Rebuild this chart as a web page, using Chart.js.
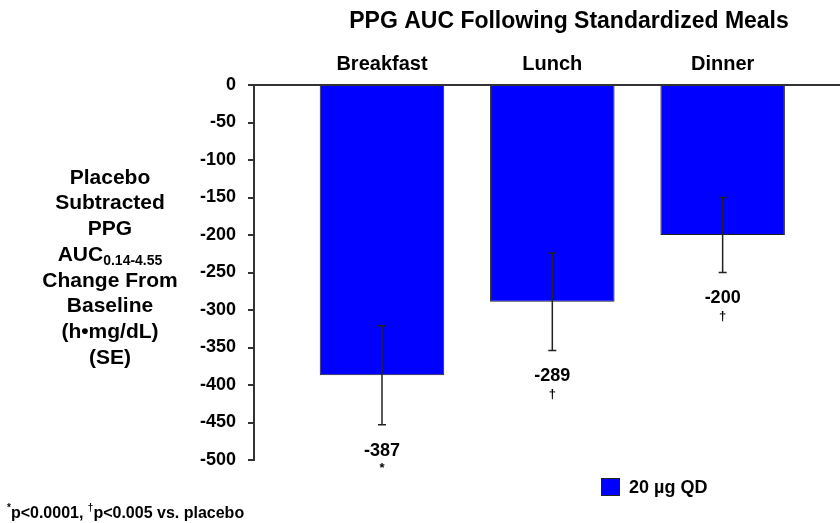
<!DOCTYPE html>
<html>
<head>
<meta charset="utf-8">
<script src="https://cdn.jsdelivr.net/npm/chart.js@4.4.1/dist/chart.umd.min.js"></script>
<style>
  html, body { margin: 0; padding: 0; background: #fff; }
  #wrap { width: 840px; height: 523px; position: relative; }
</style>
</head>
<body>
<div id="wrap"><canvas id="c" width="840" height="523"></canvas></div>
<script>
// ---- data ----
const categories = ['Breakfast', 'Lunch', 'Dinner'];
const values = [-387, -289, -200];
const standardErrors = [66, 65, 50];
const significance = ['*', '\u2020', '\u2020'];
const seriesLabel = '20 \u00b5g QD';
const yTicks = [0, -50, -100, -150, -200, -250, -300, -350, -400, -450, -500];
const titleText = 'PPG AUC Following Standardized Meals';
const yLabelLines = ['Placebo', 'Subtracted', 'PPG', 'AUC', 'Change From', 'Baseline', '(h\u2022mg/dL)', '(SE)'];
const yLabelSub = '0.14-4.55';

const FONT = '"Liberation Sans", Arial, Helvetica, sans-serif';
const BLUE = '#0000FF';
const DARK = '#333333';

const positions = categories.map((_, i) => i + 1);

const extrasPlugin = {
  id: 'extras',
  afterDatasetsDraw(chart) {
    const ctx = chart.ctx;
    const xs = chart.scales.x, ys = chart.scales.y;
    ctx.save();
    ctx.strokeStyle = '#222';
    ctx.lineWidth = 1.5;
    values.forEach((v, i) => {
      const x = xs.getPixelForValue(positions[i]);
      const yT = ys.getPixelForValue(v + standardErrors[i]);
      const yB = ys.getPixelForValue(v - standardErrors[i]);
      ctx.beginPath();
      ctx.moveTo(x, yT); ctx.lineTo(x, yB);
      ctx.moveTo(x - 4, yT); ctx.lineTo(x + 4, yT);
      ctx.moveTo(x - 4, yB); ctx.lineTo(x + 4, yB);
      ctx.stroke();
      ctx.fillStyle = '#000';
      ctx.textAlign = 'center';
      ctx.textBaseline = 'middle';
      ctx.font = 'bold 18px ' + FONT;
      ctx.fillText(String(v), x, yB + 26);
      ctx.font = 'bold 13px ' + FONT;
      ctx.fillText(significance[i], x, yB + 44);
    });
    ctx.restore();
  },
  afterDraw(chart) {
    const ctx = chart.ctx;
    ctx.save();
    ctx.fillStyle = '#000';
    // title
    ctx.font = 'bold 23px ' + FONT;
    ctx.textAlign = 'center';
    ctx.textBaseline = 'middle';
    ctx.fillText(titleText, 569, 22);
    // y-axis label (horizontal, multi-line)
    const cx = 110, y0 = 178, lh = 25.7;
    yLabelLines.forEach((line, i) => {
      const y = y0 + i * lh;
      if (line === 'AUC') {
        ctx.font = 'bold 21px ' + FONT;
        const w1 = ctx.measureText(line).width;
        ctx.font = 'bold 14px ' + FONT;
        const w2 = ctx.measureText(yLabelSub).width;
        const start = cx - (w1 + w2) / 2;
        ctx.textAlign = 'left';
        ctx.font = 'bold 21px ' + FONT;
        ctx.fillText(line, start, y);
        ctx.font = 'bold 14px ' + FONT;
        ctx.fillText(yLabelSub, start + w1, y + 6);
        ctx.textAlign = 'center';
      } else {
        ctx.font = 'bold 21px ' + FONT;
        ctx.fillText(line, cx, y);
      }
    });
    // legend
    ctx.fillStyle = BLUE;
    ctx.fillRect(601, 478, 18, 17);
    ctx.strokeStyle = '#222';
    ctx.lineWidth = 1;
    ctx.strokeRect(601.5, 478.5, 18, 17);
    ctx.fillStyle = '#000';
    ctx.textAlign = 'left';
    ctx.font = 'bold 18px ' + FONT;
    ctx.fillText(seriesLabel, 629, 488);
    // footnote
    let fx = 7;
    const fy = 514;
    const parts = [
      {t: '*', sup: true}, {t: 'p<0.0001, ', sup: false},
      {t: '\u2020', sup: true}, {t: 'p<0.005 vs. placebo', sup: false}
    ];
    parts.forEach(p => {
      ctx.font = (p.sup ? 'bold 10px ' : 'bold 16px ') + FONT;
      ctx.fillText(p.t, fx, p.sup ? fy - 6 : fy);
      fx += ctx.measureText(p.t).width;
    });
    ctx.restore();
  }
};

new Chart(document.getElementById('c'), {
  type: 'bar',
  data: {
    datasets: [{
      label: seriesLabel,
      data: values.map((v, i) => ({ x: positions[i], y: v })),
      backgroundColor: BLUE,
      borderColor: '#222',
      borderWidth: 1,
      barPercentage: 0.731,
      categoryPercentage: 1.0
    }]
  },
  options: {
    responsive: false,
    animation: false,
    devicePixelRatio: 1,
    layout: { padding: { left: 0, right: 0, top: 0, bottom: 63 } },
    plugins: { legend: { display: false }, title: { display: false }, tooltip: { enabled: false } },
    scales: {
      x: {
        type: 'linear',
        position: 'top',
        offset: false,
        min: 0.2486,
        max: 3.689,
        afterFit(s) { s.height = 85; },
        afterBuildTicks(s) { s.ticks = positions.map(p => ({ value: p })); },
        grid: { display: false, drawTicks: false, offset: false },
        border: { display: true, color: DARK, width: 2 },
        ticks: {
          padding: 9,
          color: '#000',
          font: { family: FONT, size: 20, weight: 'bold' },
          callback: (v) => categories[positions.indexOf(v)] || ''
        }
      },
      y: {
        min: -500,
        max: 0,
        afterFit(s) { s.width = 254; },
        afterBuildTicks(s) { s.ticks = yTicks.map(v => ({ value: v })); },
        grid: { drawOnChartArea: false, drawTicks: true, tickLength: 6, color: DARK, lineWidth: 2 },
        border: { display: true, color: DARK, width: 2 },
        ticks: {
          padding: 12,
          color: '#000',
          font: { family: FONT, size: 18, weight: 'bold' }
        }
      }
    }
  },
  plugins: [extrasPlugin]
});
</script>
</body>
</html>
